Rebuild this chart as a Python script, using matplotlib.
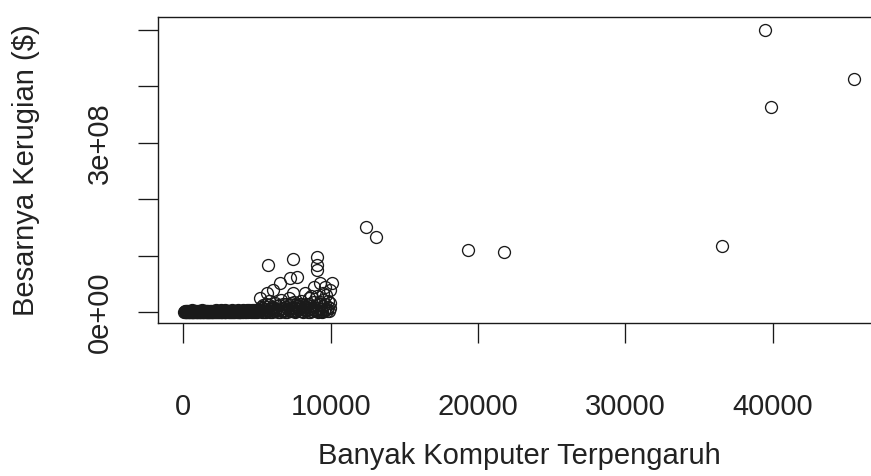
import matplotlib.pyplot as plt

plt.rcParams['font.family'] = ['Liberation Sans', 'DejaVu Sans']

# komputer terpengaruh vs kerugian ($), dibaca dari gambar
# titik besar (outlier)
big_x = [45517, 39477, 39864, 19342, 21785, 36580, 12399, 13078]
big_y = [4.13e8, 5.00e8, 3.63e8, 1.10e8, 1.07e8, 1.17e8, 1.51e8, 1.33e8]

# gerombolan 5000 - 10000
mid_x = [5772, 7465, 9053, 9053, 9053, 7241, 7696, 6563, 6108, 5660,
         9277, 10071, 9956, 7465, 8259, 9501, 5205, 8900, 8700, 9600,
         5200, 5350, 5500, 5600, 5700, 5800, 5900, 6000, 6100, 6200,
         6300, 6400, 6500, 6600, 6700, 6800, 6900, 7000, 7100, 7200,
         7300, 7400, 7500, 7600, 7700, 7800, 7900, 8000, 8100, 8200,
         8300, 8400, 8500, 8600, 8700, 8800, 8900, 9000, 9100, 9200,
         9300, 9400, 9500, 9600, 9700, 9800, 9900, 9950, 5450, 6850,
         7350, 8150, 8650, 9350, 9750, 6250, 5950, 7950]
mid_y = [0.84e8, 0.94e8, 0.985e8, 0.84e8, 0.75e8, 0.60e8, 0.63e8, 0.51e8, 0.39e8, 0.34e8,
         0.51e8, 0.51e8, 0.39e8, 0.34e8, 0.34e8, 0.34e8, 0.25e8, 0.45e8, 0.28e8, 0.44e8,
         2e6, 8e6, 1e6, 15e6, 4e6, 20e6, 1e6, 10e6, 3e6, 17e6,
         6e6, 1e6, 12e6, 22e6, 3e6, 8e6, 1e6, 14e6, 5e6, 25e6,
         2e6, 10e6, 18e6, 1e6, 7e6, 13e6, 3e6, 20e6, 1e6, 9e6,
         15e6, 4e6, 25e6, 1e6, 11e6, 6e6, 18e6, 2e6, 28e6, 8e6,
         14e6, 1e6, 22e6, 5e6, 30e6, 10e6, 3e6, 17e6, 5e6, 4e6,
         7e6, 5e6, 3e6, 6e6, 2e6, 2e6, 6e6, 9e6]

mid2_x = [5150, 5250, 5320, 5420, 5520, 5620, 5680, 5760, 5850, 5940,
          6050, 6150, 6230, 6350, 6450, 6550, 6650, 6750, 6830, 6950,
          7050, 7150, 7250, 7330, 7420, 7550, 7650, 7750, 7850, 7930,
          8050, 8120, 8250, 8350, 8450, 8550, 8620, 8750, 8850, 8950,
          9050, 9150, 9250, 9330, 9450, 9550, 9650, 9720, 9850, 9930]
mid2_y = [3e6, 9e6, 1e6, 13e6, 5e6, 1e6, 9e6, 3e6, 12e6, 6e6,
          1e6, 7e6, 2e6, 11e6, 4e6, 1e6, 8e6, 15e6, 2e6, 9e6,
          1e6, 12e6, 4e6, 16e6, 3e6, 8e6, 2e6, 11e6, 5e6, 15e6,
          2e6, 12e6, 4e6, 9e6, 1e6, 14e6, 6e6, 2e6, 10e6, 4e6,
          13e6, 1e6, 18e6, 3e6, 11e6, 2e6, 15e6, 6e6, 20e6, 8e6]

# pita padat dekat nol
band_x = [67, 120, 180, 240, 310, 370, 430, 500, 560, 620,
          690, 750, 810, 880, 940, 1000, 1070, 1130, 1200, 1260,
          1320, 1390, 1450, 1520, 1580, 1640, 1710, 1770, 1840, 1900,
          1960, 2030, 2090, 2160, 2220, 2280, 2350, 2410, 2480, 2540,
          2600, 2670, 2730, 2800, 2860, 2920, 2990, 3050, 3120, 3180,
          3240, 3310, 3370, 3440, 3500, 3560, 3630, 3690, 3760, 3820,
          3880, 3950, 4010, 4080, 4140, 4200, 4270, 4330, 4400, 4460,
          4520, 4590, 4650, 4720, 4780, 4840, 4910, 4970, 5040, 5100]
band_y = [2e5, 5e5, 1e5, 8e5, 3e5, 6e5, 2e5, 1e6, 4e5, 7e5,
          3e5, 9e5, 2e5, 6e5, 1e6, 4e5, 8e5, 2e5, 5e5, 1.2e6,
          3e5, 7e5, 1e6, 4e5, 9e5, 2e5, 6e5, 1.3e6, 3e5, 8e5,
          5e5, 1e6, 2e5, 7e5, 1.5e6, 4e5, 9e5, 3e5, 1.1e6, 6e5,
          2e5, 1.4e6, 5e5, 8e5, 1e6, 3e5, 1.6e6, 7e5, 4e5, 1.2e6,
          2e5, 9e5, 1.5e6, 6e5, 3e5, 1.8e6, 1e6, 4e5, 1.3e6, 7e5,
          2e5, 1.6e6, 9e5, 5e5, 2e6, 3e5, 1.1e6, 1.7e6, 6e5, 1.4e6,
          2.2e6, 4e5, 1.9e6, 8e5, 2.5e6, 1.2e6, 3e6, 6e5, 2e6, 1.5e6]

band2_x = [95, 150, 210, 275, 340, 400, 465, 530, 590, 655,
           720, 780, 845, 910, 970, 1035, 1100, 1165, 1230, 1290,
           1355, 1420, 1485, 1550, 1610, 1675, 1740, 1805, 1870, 1930,
           1995, 2060, 2125, 2190, 2250, 2315, 2380, 2445, 2510, 2570,
           2635, 2700, 2765, 2830, 2890, 2955, 3020, 3085, 3150, 3210,
           3275, 3340, 3405, 3470, 3530, 3595, 3660, 3725, 3790, 3850,
           3915, 3980, 4045, 4110, 4170, 4235, 4300, 4365, 4430, 4490,
           4555, 4620, 4685, 4750, 4810, 4875, 4940, 5005, 5070, 5130]
band2_y = [1.5e6, 2.5e6, 1e6, 3e6, 2e6, 1.2e6, 2.8e6, 1.8e6, 3.2e6, 1.1e6,
           2.4e6, 1.6e6, 3e6, 0.8e6, 2.2e6, 2.9e6, 1.3e6, 2.6e6, 1.9e6, 3.3e6,
           1e6, 2.3e6, 2.7e6, 1.4e6, 3.1e6, 2e6, 1.2e6, 2.8e6, 2.1e6, 0.9e6,
           3e6, 1.7e6, 2.5e6, 1.1e6, 3.4e6, 2.2e6, 1.5e6, 2.9e6, 1.8e6, 3.2e6,
           1.3e6, 2.6e6, 2e6, 3.5e6, 1.4e6, 2.4e6, 3e6, 1.6e6, 2.7e6, 2.1e6,
           3.3e6, 1.2e6, 2.8e6, 1.9e6, 3.1e6, 2.3e6, 1.5e6, 3.4e6, 2.6e6, 1.7e6,
           3e6, 2.2e6, 3.5e6, 1.4e6, 2.9e6, 2.4e6, 3.2e6, 1.8e6, 3.6e6, 2.5e6,
           3e6, 2e6, 3.8e6, 2.7e6, 4e6, 3.1e6, 4.2e6, 2.6e6, 4.5e6, 3.5e6]

xticks = [0, 10000, 20000, 30000, 40000]
yticks = [0, 1e8, 2e8, 3e8, 4e8, 5e8]
ytick_labels = ['0e+00', '', '', '3e+08', '', '']

W, H = 871, 476
fig = plt.figure(figsize=(W / 100, H / 100), dpi=100)
left, right, top, bottom = 157.7, 880.8, 16.7, 323.3
ax = fig.add_axes([left / W, 1 - bottom / H, (right - left) / W, (bottom - top) / H])

ink = '#1a1a1a'
groups = [(band_x, band_y), (band2_x, band2_y), (mid_x, mid_y),
          (mid2_x, mid2_y), (big_x, big_y)]
for xs, ys in groups:
    ax.plot(xs, ys, 'o', markersize=8.6, markerfacecolor='none',
            markeredgecolor=ink, markeredgewidth=0.95, linestyle='none')

ax.set_xlim(-1737, 47335)
ax.set_ylim(-0.195e8, 5.23e8)

for s in ax.spines.values():
    s.set_linewidth(1.0)
    s.set_color(ink)

fs = 21
ax.set_xticks(xticks)
ax.set_xticklabels([str(t) for t in xticks], va='center')
ax.set_yticks(yticks)
ax.set_yticklabels(ytick_labels, rotation=90, va='center', ha='center')
ax.tick_params(axis='both', length=14.4, width=0.95, color=ink,
               labelsize=fs, labelcolor='#222222')
ax.tick_params(axis='x', pad=46)
ax.tick_params(axis='y', pad=27)

ax.set_xlabel('Banyak Komputer Terpengaruh', fontsize=fs, color='#222222',
              va='center', ha='center')
ax.xaxis.set_label_coords(0.5, (bottom - 456) / (bottom - top))
ax.set_ylabel('Besarnya Kerugian ($)', fontsize=fs, color='#222222',
              va='center', ha='center')
ax.yaxis.set_label_coords((26 - left) / (right - left), 0.5)

fig.savefig('out.png', dpi=100)
